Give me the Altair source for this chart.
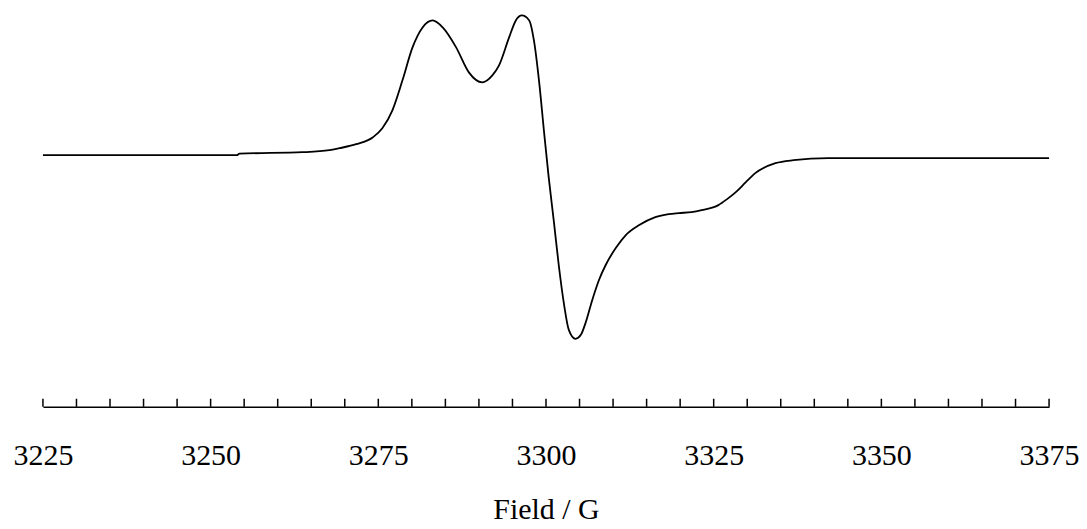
import altair as alt
import pandas as pd

# EPR spectrum (field in G, intensity in arbitrary units)
field = [3225.0, 3233.5, 3248.4, 3253.9, 3254.3, 3263.7, 3267.7, 3269.2, 3271.7,
         3274.2, 3275.6, 3277.1, 3278.6, 3280.1, 3281.6, 3283.1, 3284.6, 3286.6,
         3288.5, 3290.5, 3292.0, 3293.0, 3294.5, 3295.5, 3296.4, 3297.5, 3298.2,
         3299.0, 3299.7, 3300.4, 3301.2, 3301.9, 3302.7, 3303.4, 3304.4, 3305.2,
         3305.9, 3306.9, 3307.9, 3308.9, 3310.4, 3311.9, 3313.9, 3316.3, 3318.3,
         3319.8, 3321.7, 3323.2, 3325.7, 3327.0, 3328.3, 3329.8, 3331.2, 3334.2,
         3336.9, 3342.1, 3352.5, 3367.4, 3375.0]
intensity = [0, 0, 0, 0, 1.5, 3, 5, 7, 11,
             18, 27, 45, 75, 108, 128, 135, 128, 108,
             83, 73, 80, 90, 118, 135, 140, 135, 115,
             72, 24, -22, -68, -110, -150, -175, -184, -180,
             -168, -145, -125, -110, -93, -80, -70, -62, -59,
             -58, -57, -55, -50, -44, -37, -27, -18, -8,
             -5, -3, -3, -3, -3]

tick_values = list(range(3225, 3380, 5))
label_values = [3225, 3250, 3275, 3300, 3325, 3350, 3375]

df = pd.DataFrame({"field": field, "intensity": intensity})
ticks_df = pd.DataFrame({"field": tick_values})

W, H = 1008, 399
SERIF = "Times New Roman, Liberation Serif, Times, serif"

xscale = alt.Scale(domain=[3225, 3375], nice=False, zero=False)
yscale = alt.Scale(domain=[-252, 147], nice=False, zero=False)

line = alt.Chart(df).mark_line(
    color="black", strokeWidth=1.8, interpolate="monotone"
).encode(
    x=alt.X("field:Q", scale=xscale,
            axis=alt.Axis(values=label_values, ticks=False, grid=False,
                          domainColor="black", domainWidth=1.5,
                          labelFont=SERIF, labelFontSize=30,
                          labelColor="black", labelPadding=34, labelFlush=False,
                          title="Field / G", titleFont=SERIF,
                          titleFontSize=30, titleFontWeight="normal",
                          titleColor="black", titlePadding=24, format="d")),
    y=alt.Y("intensity:Q", scale=yscale, axis=None),
)

tks = alt.Chart(ticks_df).mark_rule(color="black", strokeWidth=1.5).encode(
    x=alt.X("field:Q", scale=xscale),
    y=alt.value(H - 8),
    y2=alt.value(H),
)

chart = alt.layer(line, tks).properties(
    width=W, height=H,
    autosize=alt.AutoSizeParams(type="none"),
    padding={"left": 35, "top": 0, "right": 30, "bottom": 114},
    background="white",
).configure_view(stroke=None)

chart.save("out.html", embed_options={"renderer": "svg", "actions": False})
